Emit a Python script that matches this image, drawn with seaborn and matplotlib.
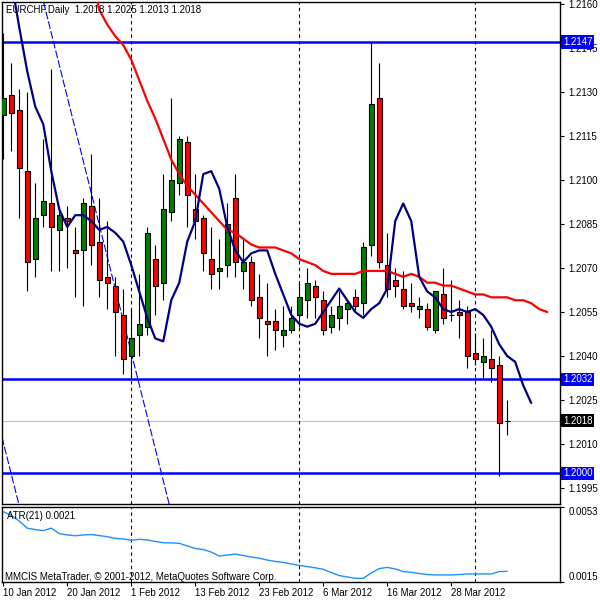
import matplotlib
matplotlib.use("Agg")
import matplotlib.pyplot as plt
import seaborn as sns
import numpy as np
import pandas as pd
from matplotlib.transforms import blended_transform_factory

# ---------------- data ----------------
symbol_title = "EURCHF,Daily"
date_labels = ["10 Jan 2012", "20 Jan 2012", "1 Feb 2012", "13 Feb 2012",
               "23 Feb 2012", "6 Mar 2012", "16 Mar 2012", "28 Mar 2012"]
date_tick_bars = [0, 8, 16, 24, 32, 40, 48, 56]
month_start_bars = [16, 37, 59]

opens = [1.2122, 1.2129, 1.2124, 1.2103, 1.2073, 1.2088, 1.2092, 1.2083, 1.2087, 1.2076,
         1.2076, 1.2091, 1.2079, 1.2067, 1.2064, 1.2054, 1.2040, 1.2047, 1.2050, 1.2073,
         1.2065, 1.2089, 1.2099, 1.2113, 1.2090, 1.2087, 1.2073, 1.2069, 1.2071, 1.2094,
         1.2069, 1.2072, 1.2060, 1.2052, 1.2052, 1.2047, 1.2049, 1.2054, 1.2059, 1.2064,
         1.2059, 1.2050, 1.2053, 1.2056, 1.2060, 1.2058, 1.2078, 1.2128, 1.2071, 1.2066,
         1.2063, 1.2058, 1.2056, 1.2056, 1.2049, 1.2061, 1.2054, 1.2055, 1.2055, 1.2041,
         1.2038, 1.2039, 1.2037, 1.2018]
highs = [1.2150, 1.2140, 1.2131, 1.2130, 1.2099, 1.2114, 1.2138, 1.2091, 1.2091, 1.2084,
         1.2094, 1.2109, 1.2094, 1.2086, 1.2067, 1.2063, 1.2056, 1.2068, 1.2084, 1.2078,
         1.2102, 1.2128, 1.2115, 1.2115, 1.2102, 1.2088, 1.2084, 1.2080, 1.2092, 1.2102,
         1.2080, 1.2074, 1.2068, 1.2065, 1.2056, 1.2057, 1.2057, 1.2065, 1.2070, 1.2066,
         1.2062, 1.2057, 1.2062, 1.2059, 1.2063, 1.2079, 1.2147, 1.2140, 1.2082, 1.2070,
         1.2069, 1.2065, 1.2060, 1.2058, 1.2062, 1.2070, 1.2066, 1.2059, 1.2057, 1.2048,
         1.2046, 1.2049, 1.2040, 1.2025]
lows = [1.2107, 1.2110, 1.2087, 1.2062, 1.2067, 1.2084, 1.2069, 1.2069, 1.2070, 1.2060,
        1.2057, 1.2071, 1.2060, 1.2056, 1.2040, 1.2034, 1.2032, 1.2040, 1.2047, 1.2054,
        1.2059, 1.2086, 1.2095, 1.2084, 1.2080, 1.2069, 1.2063, 1.2063, 1.2067, 1.2067,
        1.2063, 1.2057, 1.2046, 1.2040, 1.2042, 1.2043, 1.2048, 1.2050, 1.2053, 1.2053,
        1.2047, 1.2048, 1.2049, 1.2051, 1.2055, 1.2054, 1.2074, 1.2070, 1.2060, 1.2060,
        1.2056, 1.2055, 1.2053, 1.2049, 1.2048, 1.2051, 1.2052, 1.2046, 1.2036, 1.2037,
        1.2032, 1.2031, 1.1999, 1.2013]
closes = [1.2128, 1.2123, 1.2104, 1.2072, 1.2087, 1.2093, 1.2084, 1.2088, 1.2086, 1.2075,
          1.2092, 1.2078, 1.2066, 1.2065, 1.2055, 1.2039, 1.2046, 1.2051, 1.2082, 1.2064,
          1.2090, 1.2100, 1.2114, 1.2095, 1.2086, 1.2075, 1.2068, 1.2070, 1.2085, 1.2072,
          1.2072, 1.2059, 1.2053, 1.2051, 1.2049, 1.2049, 1.2053, 1.2060, 1.2065, 1.2060,
          1.2049, 1.2054, 1.2057, 1.2058, 1.2057, 1.2077, 1.2126, 1.2072, 1.2063, 1.2064,
          1.2057, 1.2057, 1.2057, 1.2050, 1.2062, 1.2053, 1.2054, 1.2054, 1.2040, 1.2039,
          1.2040, 1.2036, 1.2017, 1.2018]

# fast moving average (navy), starts at bar 1 and runs 3 bars past the last candle
navy_start = 1
navy_ma = [1.2168, 1.2152, 1.2137, 1.2125, 1.2119, 1.2103, 1.2090, 1.2084, 1.2088, 1.2088,
           1.2086, 1.2083, 1.2084, 1.2082, 1.2079, 1.2071, 1.2062, 1.2053, 1.2046, 1.2045,
           1.2059, 1.2065, 1.2079, 1.2086, 1.2102, 1.2103, 1.2097, 1.2084, 1.2076, 1.2072,
           1.2075, 1.2076, 1.2076, 1.2068, 1.2061, 1.2054, 1.2051, 1.2050, 1.2051, 1.2055,
           1.2059, 1.2063, 1.2059, 1.2055, 1.2053, 1.2056, 1.2058, 1.2063, 1.2086, 1.2092,
           1.2086, 1.2067, 1.2062, 1.2060, 1.2056, 1.2055, 1.2056, 1.2055, 1.2056, 1.2054,
           1.2050, 1.2044, 1.2040, 1.2038, 1.2030, 1.2024]
# slow moving average (red), starts at bar 11 and runs 5 bars past the last candle
red_start = 11
red_ma = [1.2170, 1.2158, 1.2153, 1.2149, 1.2146, 1.2141, 1.2134, 1.2127, 1.2121, 1.2114,
          1.2107, 1.2102, 1.2098, 1.2095, 1.2092, 1.2089, 1.2086, 1.2083, 1.2082, 1.2080,
          1.2078, 1.2077, 1.2077, 1.2077, 1.2076, 1.2075, 1.2073, 1.2072, 1.2071, 1.2069,
          1.2068, 1.2068, 1.2068, 1.2068, 1.2069, 1.2069, 1.2069, 1.2069, 1.2068, 1.2067,
          1.2068, 1.2067, 1.2065, 1.2065, 1.2064, 1.2064, 1.2063, 1.2062, 1.2061, 1.2061,
          1.2060, 1.2060, 1.2060, 1.2059, 1.2059, 1.2058, 1.2056, 1.2055]

atr_values = [0.00505, 0.00486, 0.00458, 0.00422, 0.00415, 0.00410, 0.00422, 0.00395, 0.00388, 0.00384,
              0.00388, 0.00390, 0.00385, 0.00379, 0.00371, 0.00368, 0.00361, 0.00366, 0.00363, 0.00355,
              0.00349, 0.00348, 0.00346, 0.00333, 0.00320, 0.00315, 0.00302, 0.00282, 0.00287, 0.00292,
              0.00285, 0.00277, 0.00271, 0.00262, 0.00255, 0.00250, 0.00242, 0.00235, 0.00229, 0.00223,
              0.00215, 0.00199, 0.00184, 0.00177, 0.00170, 0.00170, 0.00197, 0.00219, 0.00225, 0.00217,
              0.00204, 0.00200, 0.00194, 0.00189, 0.00187, 0.00187, 0.00187, 0.00189, 0.00192, 0.00192,
              0.00192, 0.00192, 0.00204, 0.00205]

price_ticks = [1.1995, 1.2010, 1.2025, 1.2040, 1.2055, 1.2070, 1.2085,
               1.2100, 1.2115, 1.2130, 1.2145, 1.2160]
support_levels = [1.2147, 1.2032, 1.2000]
bid_price = 1.2018
atr_range = [0.0015, 0.0053]
atr_label = "ATR(21) 0.0021"
copyright_text = "MMCIS MetaTrader, \u00a9 2001-2012, MetaQuotes Software Corp."

# trend channel: two anchor points (bar, price) for the main line, offset in bars for the parallel
channel_p1 = (5.0, 1.2161)
channel_p2 = (20.6, 1.1991)
channel_offset_bars = -18.8

# ---------------- style ----------------
sns.set_style("white")
plt.rcParams['font.family'] = ['Liberation Sans', 'DejaVu Sans']
FS = 7

fig = plt.figure(figsize=(6, 6), dpi=100)
W = H = 600.0
ax = fig.add_axes([2 / W, 1 - 504 / H, 558 / W, 502 / H])
ax2 = fig.add_axes([2 / W, 1 - 582.3 / H, 558 / W, 75.6 / H], sharex=ax)

xmin, xmax = -0.16, 69.6
ax.set_xlim(xmin, xmax)
ax.set_ylim(1.198955, 1.216068)

df = pd.DataFrame(dict(bar=np.arange(len(opens)), open=opens, high=highs,
                       low=lows, close=closes))
up = df["close"] >= df["open"]
body_lo = np.minimum(df["open"], df["close"])
body_h = (df["close"] - df["open"]).abs()

# wicks and bodies
ax.vlines(df["bar"], df["low"], df["high"], color="black", lw=0.8, zorder=3)
ax.bar(df["bar"], body_h, bottom=body_lo, width=0.62,
       color=np.where(up, "#008000", "#FF0000"), edgecolor="black",
       linewidth=0.8, zorder=4)

# moving averages
navy_df = pd.DataFrame(dict(bar=np.arange(navy_start, navy_start + len(navy_ma)), v=navy_ma))
red_df = pd.DataFrame(dict(bar=np.arange(red_start, red_start + len(red_ma)), v=red_ma))
sns.lineplot(data=red_df, x="bar", y="v", ax=ax, color="#FF0000", lw=1.6,
             estimator=None, sort=False, zorder=5)
sns.lineplot(data=navy_df, x="bar", y="v", ax=ax, color="#000080", lw=1.6,
             estimator=None, sort=False, zorder=6)

# horizontal levels
for lvl in support_levels:
    ax.axhline(lvl, color="#0000FF", lw=1.8, zorder=2)
ax.axhline(bid_price, color="#C0C0C0", lw=0.8, zorder=1)

# trend channel (dashed blue rays)
ax.axline(channel_p1, channel_p2, color="#0000FF", lw=0.8, dashes=(7, 2), zorder=2)
ax.axline((channel_p1[0] + channel_offset_bars, channel_p1[1]),
          (channel_p2[0] + channel_offset_bars, channel_p2[1]),
          color="#0000FF", lw=0.8, dashes=(7, 2), zorder=2)

# period separators
for a in (ax, ax2):
    for b in month_start_bars:
        a.axvline(b, color="black", lw=0.8, dashes=(3, 3), zorder=1)

# price axis on the right
ax.yaxis.tick_right()
ax.set_yticks(price_ticks)
ax.set_yticklabels([f"{t:.4f}" for t in price_ticks])
ax.tick_params(axis="y", direction="out", length=3, width=0.8, pad=3,
               labelsize=FS, colors="black", right=True, left=False)
ax.tick_params(axis="x", bottom=False, labelbottom=False)
ax.set_xlabel("")
ax.set_ylabel("")

tr = blended_transform_factory(ax.transAxes, ax.transData)
for lvl in support_levels:
    ax.text(1.0 + 3 / 558, lvl, f"{lvl:.4f}", transform=tr, ha="left", va="center",
            fontsize=FS, color="white", zorder=20, clip_on=False,
            bbox=dict(boxstyle="square,pad=0.18", fc="#0000FF", ec="none"))
ax.text(1.0 + 3 / 558, bid_price, f"{bid_price:.4f}", transform=tr, ha="left", va="center",
        fontsize=FS, color="white", zorder=20, clip_on=False,
        bbox=dict(boxstyle="square,pad=0.18", fc="black", ec="none"))

# ATR sub-window
atr_df = pd.DataFrame(dict(bar=np.arange(len(atr_values)), v=atr_values))
sns.lineplot(data=atr_df, x="bar", y="v", ax=ax2, color="#1E90FF", lw=1,
             estimator=None, sort=False, zorder=3)
ax2.set_ylim(atr_range[0], atr_range[1])
ax2.yaxis.tick_right()
ax2.set_yticks(atr_range)
ax2.set_yticklabels([f"{v:.4f}" for v in atr_range])
ax2.tick_params(axis="y", direction="out", length=3, width=0.8, pad=3,
                labelsize=FS, colors="black", right=True, left=False)
labs = ax2.get_yticklabels()
labs[0].set_verticalalignment("bottom")
labs[1].set_verticalalignment("top")
ax2.set_xticks(date_tick_bars)
ax2.set_xticklabels(date_labels)
for lab in ax2.get_xticklabels():
    lab.set_horizontalalignment("left")
ax2.tick_params(axis="x", direction="out", length=3, width=0.8, pad=1,
                labelsize=FS, colors="black", bottom=True)
ax2.set_xlabel("")
ax2.set_ylabel("")
ax2.set_xlim(xmin, xmax)

for a in (ax, ax2):
    for s in a.spines.values():
        s.set_color("black")
        s.set_linewidth(1)
        s.set_visible(True)

fig.text(6 / W, 1 - 10 / H,
         f"{symbol_title}  {opens[-1]:.4f} {highs[-1]:.4f} {lows[-1]:.4f} {closes[-1]:.4f}",
         ha="left", va="center", fontsize=FS, color="black")
fig.text(7 / W, 1 - 516 / H, atr_label, ha="left", va="center", fontsize=FS, color="black")
fig.text(5 / W, 1 - 577 / H, copyright_text, ha="left", va="center", fontsize=FS, color="black")

fig.savefig("out.png", dpi=100, facecolor="white")
